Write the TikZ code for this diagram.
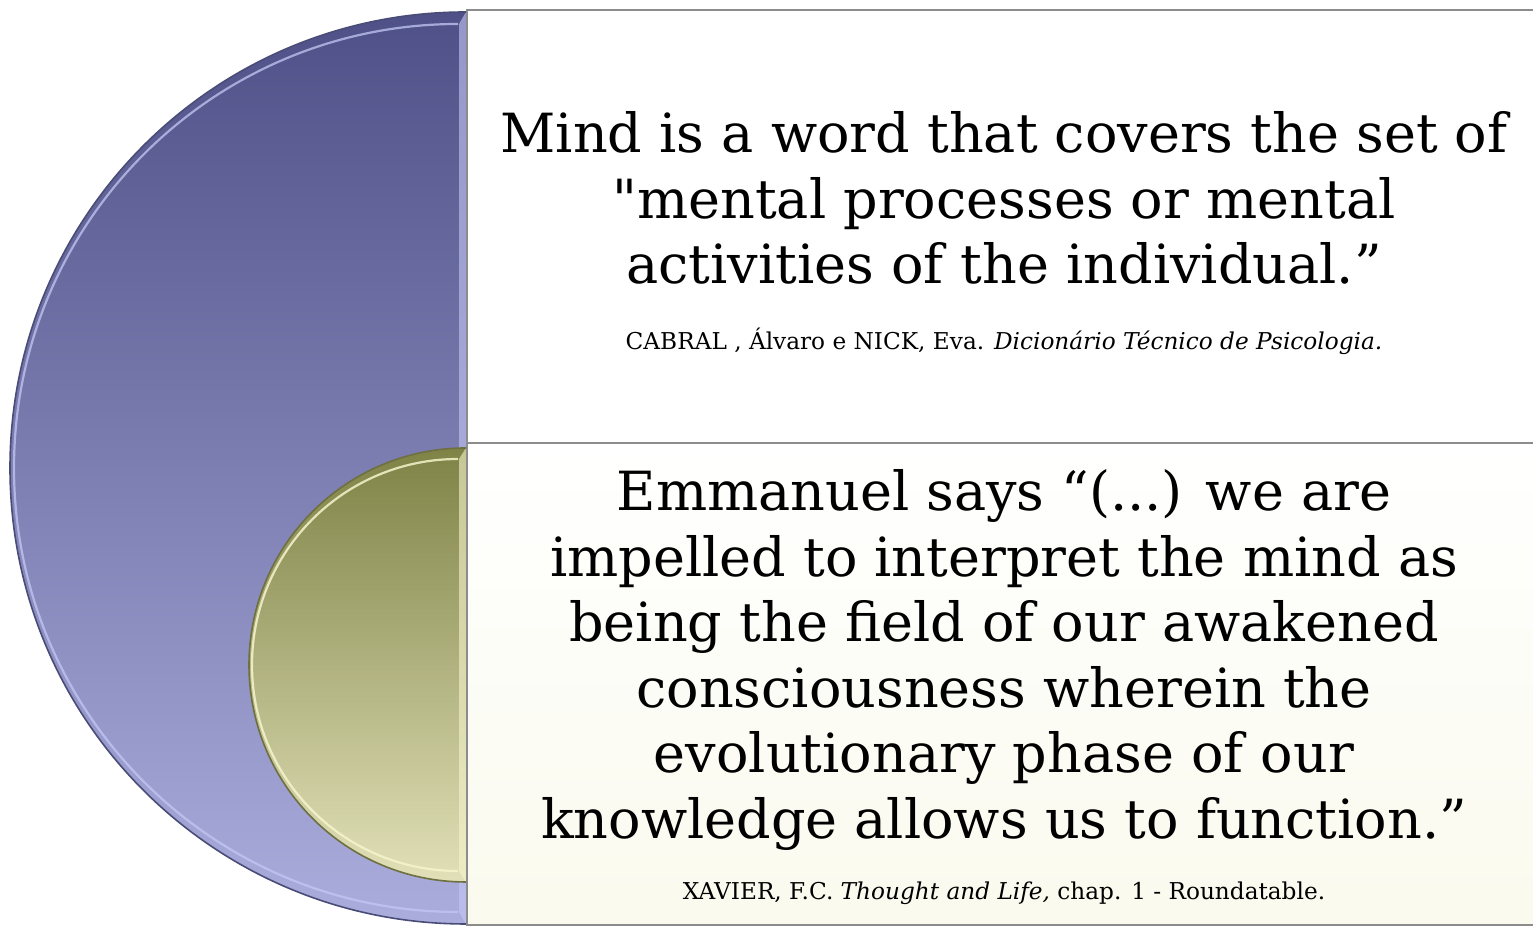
\documentclass[tikz,border=0pt]{standalone}
\usepackage{fontspec}
\setmainfont{DejaVu Serif}
\definecolor{bigtop}{HTML}{4E5087}
\definecolor{bigbot}{HTML}{ABADDD}
\definecolor{bigedge}{HTML}{4A4C78}
\definecolor{bighl}{HTML}{C4C8F4}
\definecolor{smtop}{HTML}{7F8346}
\definecolor{smbot}{HTML}{E1E0B8}
\definecolor{smedge}{HTML}{6E7040}
\definecolor{smhl}{HTML}{F6F4CC}
\definecolor{boxedge}{HTML}{8C8C8C}
\definecolor{cream}{HTML}{FAFAEE}
\tikzset{
  boxline/.style={draw=boxedge, line width=1.2pt},
  maintext/.style={align=center, inner sep=0pt, font=\fontsize{27}{32.8}\selectfont},
  citetext/.style={align=center, inner sep=0pt, font=\fontsize{11.6}{13}\selectfont}
}
\begin{document}
\begin{tikzpicture}[x=0.5pt,y=0.5pt]
\useasboundingbox (0,0) rectangle (1533,929);
% big half disc
\shade[top color=bigtop, bottom color=bigbot]
  (466,917) arc[start angle=90, end angle=270, radius=456] -- cycle;
\draw[bighl, line width=1.1pt, opacity=.75]
  (458,905) arc[start angle=90, end angle=270, radius=444];
\fill[bighl, opacity=.6] (459,905) -- (466,917) -- (466,5) -- (459,17) -- cycle;
\draw[bigedge, line width=0.8pt]
  (466,917) arc[start angle=90, end angle=270, radius=456];
% small half disc
\shade[top color=smtop, bottom color=smbot]
  (466,481) arc[start angle=90, end angle=270, radius=217] -- cycle;
\draw[smhl, line width=1.1pt, opacity=.85]
  (458,470) arc[start angle=90, end angle=270, radius=206];
\fill[smhl, opacity=.6] (459,470) -- (466,481) -- (466,47) -- (459,58) -- cycle;
\draw[smedge, line width=0.8pt]
  (466,481) arc[start angle=90, end angle=270, radius=217];
% boxes
\shade[top color=white, bottom color=white, boxline] (467,486) rectangle (1545,919);
\shade[top color=white, middle color=white, bottom color=cream, boxline] (467,4) rectangle (1545,486);
% texts
\node[maintext] (t1) at (1004,731) {Mind is a word that covers the set of\\\textquotedbl mental processes or mental\\activities of the individual.”};
\node[citetext] (c1) at (1004,588) {CABRAL , Álvaro e NICK, Eva. \textit{Dicionário Técnico de Psicologia.}};
\node[maintext] (t2) at (1004,269) {Emmanuel says “(...) we are\\impelled to interpret the mind as\\being the field of our awakened\\consciousness wherein the\\evolutionary phase of our\\knowledge allows us to function.”};
\node[citetext] (c2) at (1004,36) {XAVIER, F.C. \textit{Thought and Life,} chap. 1 - Roundatable.};
\end{tikzpicture}
\end{document}
